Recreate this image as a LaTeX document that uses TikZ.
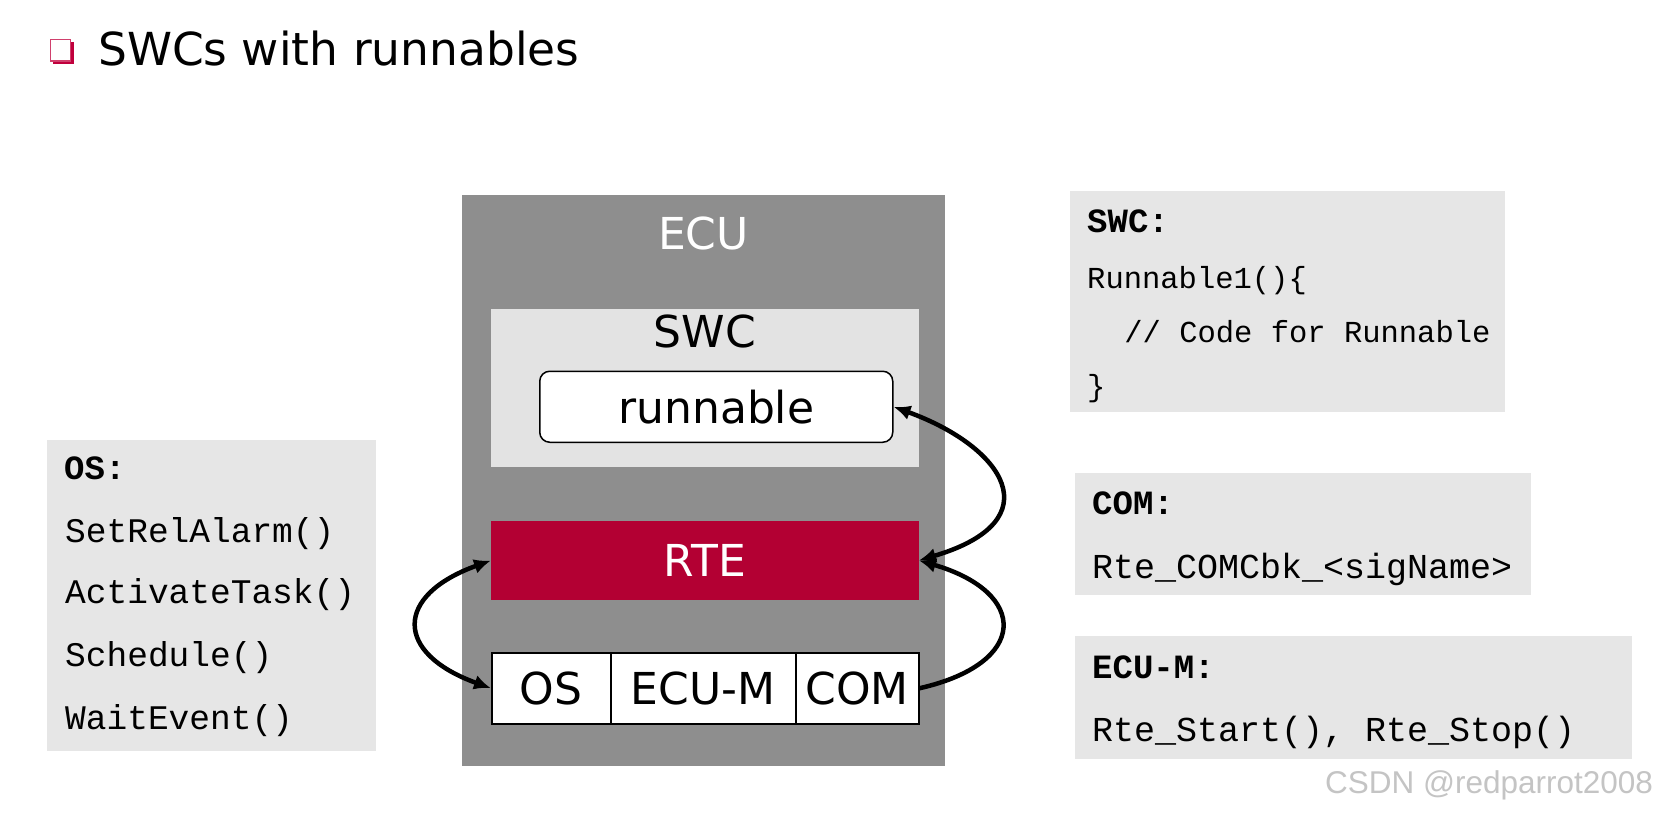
\documentclass[tikz,border=0pt]{standalone}
\usepackage{fontspec}
\setmainfont{DejaVu Sans}
\setmonofont{Liberation Mono}
\newfontfamily\wmfont{Liberation Sans}
\usetikzlibrary{arrows.meta}
\definecolor{ecugray}{HTML}{8E8E8E}
\definecolor{swcgray}{HTML}{E3E3E3}
\definecolor{codegray}{HTML}{E6E6E6}
\definecolor{rtered}{HTML}{B30033}
\definecolor{bulletred}{HTML}{C0003C}
\definecolor{wmgray}{HTML}{C4C4C4}
\begin{document}
\begin{tikzpicture}[x=1pt,y=-1pt,
  lbl/.style={font=\fontsize{44}{50}\selectfont, inner sep=0pt},
  code/.style={font=\ttfamily\fontsize{35}{40}\selectfont, anchor=base west, inner sep=0pt},
  codesmall/.style={font=\ttfamily\fontsize{30.5}{36}\selectfont, anchor=base west, inner sep=0pt},
  codebold/.style={font=\ttfamily\bfseries\fontsize{34}{40}\selectfont, anchor=base west, inner sep=0pt},
  panel/.style={fill=codegray, draw=none, anchor=north west, inner sep=0pt},
  box/.style={anchor=north west, inner sep=0pt},
  cell/.style={draw=black, fill=white, line width=1.5pt, minimum height=71pt, anchor=north west, lbl},
  arr/.style={line width=4.5pt}
]
\useasboundingbox (0,0) rectangle (1662,814);
\fill[white] (0,0) rectangle (1662,814);

% title
\fill[bulletred] (53,42) rectangle (73.5,64);
\filldraw[fill=white, draw=bulletred!75, line width=1.5pt] (50.5,39.5) rectangle (70.5,61);
\node[font=\fontsize{45.5}{54}\selectfont, anchor=base west, inner sep=0pt] (title) at (98,65) {SWCs with runnables};

% ECU
\node[box, fill=ecugray, minimum width=483pt, minimum height=571pt] (ecu) at (462,194.5) {};
\node[lbl, text=white, anchor=base] (eculbl) at (703.5,249) {ECU};
\node[box, fill=swcgray, minimum width=428pt, minimum height=158.5pt] (swc) at (491,308.5) {};
\node[lbl, anchor=base] (swclbl) at (705,347) {SWC};
\node[box, lbl, draw=black, fill=white, rounded corners=10pt, line width=1.5pt, minimum width=353pt, minimum height=71pt] (run) at (539,370.5) {runnable};
\node[box, lbl, fill=rtered, text=white, minimum width=427.5pt, minimum height=78.5pt] (rte) at (491,521) {RTE};
\node[cell, minimum width=119pt] (os) at (491,652) {OS};
\node[cell, minimum width=185pt] (ecum) at (610,652) {ECU-M};
\node[cell, minimum width=123pt] (com) at (795,652) {COM};

% arrows
\draw[arr, {Latex[length=17pt,width=15pt]}-{Latex[length=17pt,width=15pt]}] (run.east) .. controls +(110,40) and +(135,-40) .. (rte.east);
\draw[arr, -{Latex[length=17pt,width=15pt]}] (com.east) .. controls +(110,-25) and +(110,32) .. (rte.east);
\draw[arr, {Latex[length=17pt,width=15pt]}-{Latex[length=17pt,width=15pt]}] (rte.west) .. controls +(-97,35) and +(-97,-35) .. (os.west);

% OS panel
\node[panel, minimum width=329.3pt, minimum height=311.4pt] (ospanel) at (46.7,439.3) {};
\node[codebold] (ost) at (64,479.5) {OS:};
\node[code, font=\ttfamily\fontsize{34.5}{40}\selectfont] (os1) at (65,542) {SetRelAlarm()};
\node[code, font=\ttfamily\fontsize{34.5}{40}\selectfont] (os2) at (65,603) {ActivateTask()};
\node[code, font=\ttfamily\fontsize{34.5}{40}\selectfont] (os3) at (65,666.5) {Schedule()};
\node[code, font=\ttfamily\fontsize{34.5}{40}\selectfont] (os4) at (65,729) {WaitEvent()};

% SWC panel
\node[panel, minimum width=435pt, minimum height=221.5pt] (swcpanel) at (1069.5,190.7) {};
\node[codebold] (swct) at (1087,232.5) {SWC:};
\node[codesmall] (swc1) at (1087,288.4) {Runnable1()\{};
\node[codesmall] (swc2) at (1124.2,342) {// Code for Runnable};
\node[codesmall] (swc3) at (1087,396) {\}};

% COM panel
\node[panel, minimum width=455.7pt, minimum height=122.4pt] (companel) at (1074.6,472.8) {};
\node[codebold] (comt) at (1092,514) {COM:};
\node[code] (com1) at (1092,578) {Rte\_COMCbk\_<sigName>};

% ECU-M panel
\node[panel, minimum width=557.4pt, minimum height=122.6pt] (ecumpanel) at (1074.6,636) {};
\node[codebold] (ecumt) at (1092,678) {ECU-M:};
\node[code] (ecum1) at (1092,741.5) {Rte\_Start(), Rte\_Stop()};

% watermark
\node[font=\wmfont\fontsize{31.5}{36}\selectfont, text=wmgray, anchor=base west, inner sep=0pt] (wm) at (1325,793) {CSDN @redparrot2008};
\end{tikzpicture}
\end{document}
